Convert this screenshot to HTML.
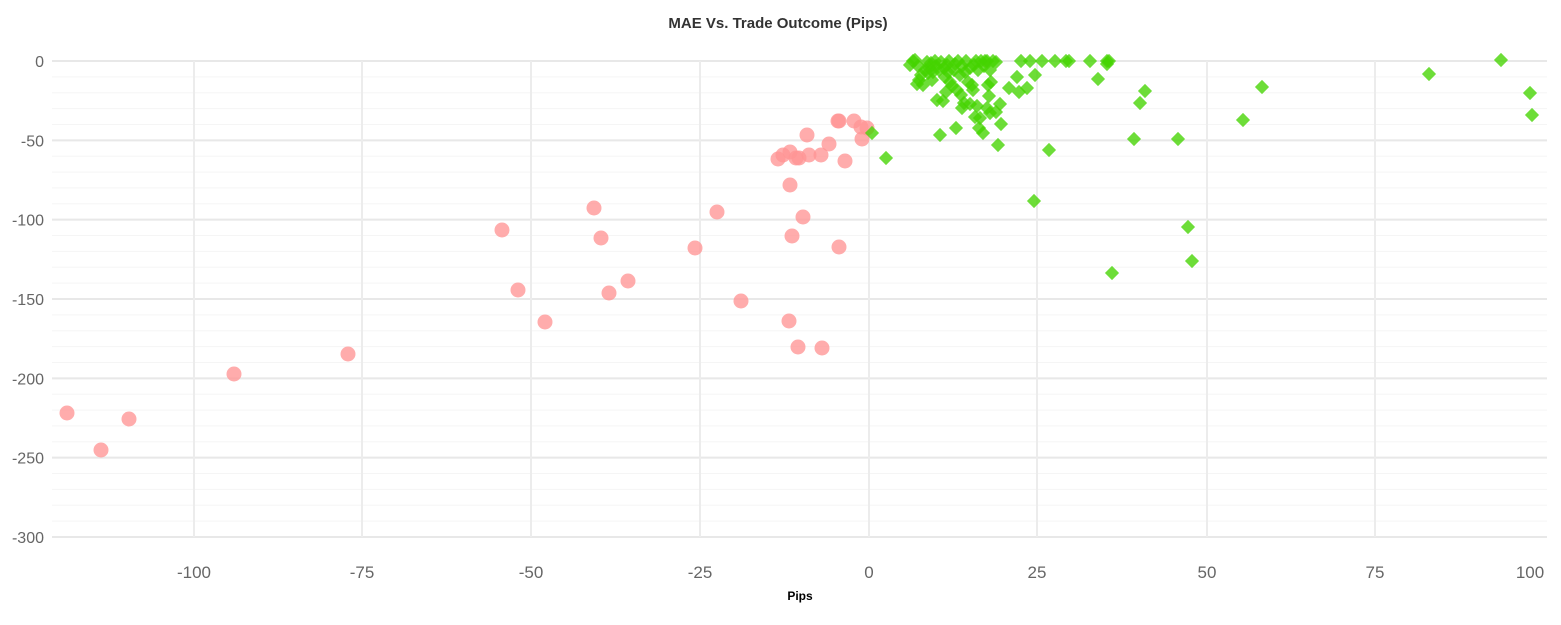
<!DOCTYPE html>
<html><head><meta charset="utf-8"><style>
body{margin:0;background:#fff;}
svg{display:block;font-family:"Liberation Sans",sans-serif;}
</style></head><body>
<svg id="s" width="1561" height="625" xmlns="http://www.w3.org/2000/svg">
<text x="778" y="28" text-anchor="middle" font-size="15" font-weight="bold" fill="#333">MAE Vs. Trade Outcome (Pips)</text>
<text x="800" y="600" text-anchor="middle" font-size="12" font-weight="bold" fill="#000">Pips</text>
<g id="grid"></g><g id="pts"></g>
</svg>
<script>
var ns="http://www.w3.org/2000/svg",s=document.getElementById('s'),g=document.getElementById('grid'),p=document.getElementById('pts');
function el(t,a,par){var e=document.createElementNS(ns,t);for(var k in a)e.setAttribute(k,a[k]);(par||g).appendChild(e);return e;}
var y0=61,ppu=(537-61)/300;
for(var v=0;v>=-300;v-=10){var y=y0-v*ppu;el('line',{x1:52,x2:1547,y1:y,y2:y,stroke:v%50==0?'#e8e8e8':'#f5f5f5','stroke-width':v%50==0?2:1});
 if(v%50==0){var t=el('text',{x:44,y:y+6,'text-anchor':'end','font-size':16,fill:'#666'});t.textContent=v;}}
var xs=[[194,-100],[362,-75],[531,-50],[700,-25],[869,0],[1037,25],[1207,50],[1375,75],[1530,100]];
xs.forEach(function(a){if(a[1]!=100)el('line',{x1:a[0],x2:a[0],y1:61,y2:537,stroke:'#ececec','stroke-width':2});
 var t=el('text',{x:a[0],y:578,'text-anchor':'middle','font-size':17,fill:'#666'});t.textContent=a[1];});
var red=[[67,413],[101,450],[129,419],[234,374],[348,354],[502,230],[518,290],[545,322],[594,208],[601,238],[609,293],[628,281],[695,248],[717,212],[741,301],[778,159],[783,155],[789,321],[790,152],[790,185],[792,236],[796,158],[798,347],[799,158],[803,217],[807,135],[809,155],[821,155],[822,348],[829,144],[838,121],[839,121],[839,247],[845,161],[854,121],[861,127],[862,139],[867,128]];
red.forEach(function(a){el('circle',{cx:a[0],cy:a[1],r:7.5,fill:'#ff9595','fill-opacity':0.78},p);});
var gr=[[872,133],[886,158],[910,65],[913,61],[915,60],[917,84],[919,80],[921,75],[923,85],[925,70],[927,62],[929,68],[931,63],[933,72],[935,61],[937,100],[939,70],[940,135],[941,62],[943,101],[945,77],[947,65],[949,61],[950,82],[952,86],[954,70],[956,128],[958,61],[960,75],[962,108],[964,103],[966,61],[968,82],[970,104],[972,85],[973,90],[975,117],[976,61],[977,106],[979,128],[980,118],[981,61],[983,133],[985,61],[987,61],[988,85],[989,96],[991,82],[993,61],[996,62],[998,145],[1000,104],[1001,124],[1009,88],[1017,77],[1019,92],[1021,61],[1027,88],[1030,61],[1034,201],[1035,75],[1042,61],[1049,150],[1055,61],[1066,61],[1069,61],[1090,61],[1098,79],[1107,61],[1107,64],[1109,61],[1134,139],[1140,103],[1145,91],[1178,139],[1188,227],[1192,261],[1112,273],[1243,120],[1262,87],[1429,74],[1501,60],[1530,93],[1532,115],
[918,66],[928,73],[936,66],[944,68],[948,72],[955,64],[962,66],[965,72],[970,68],[974,65],[978,70],[984,66],[990,70],[957,90],[961,95],[946,92],[932,80],[987,108],[990,113],[996,112]];
gr.forEach(function(a){el('rect',{x:a[0]-5,y:a[1]-5,width:10,height:10,fill:'#44d400','fill-opacity':0.78,transform:'rotate(45 '+a[0]+' '+a[1]+')'},p);});
</script>
</body></html>
